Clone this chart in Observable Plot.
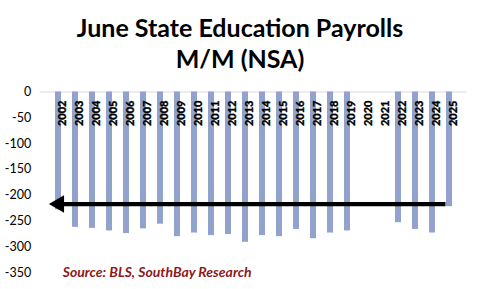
<!DOCTYPE html>
<html>
<head>
<meta charset="utf-8">
<script src="https://cdn.jsdelivr.net/npm/d3@7"></script>
<script src="https://cdn.jsdelivr.net/npm/@observablehq/plot@0.6"></script>
<style>
  body { margin: 0; background: #fff; }
  #wrap { width: 480px; height: 289px; position: relative; overflow: hidden; font-family: Lato, "Open Sans", sans-serif; }
  #title { height: 78px; text-align: center; font-weight: 700; font-size: 25px; line-height: 31px; color: #000; padding-top: 12px; box-sizing: border-box; }
</style>
</head>
<body>
<div id="wrap">
  <div id="title">June State Education Payrolls<br>M/M (NSA)</div>
  <div id="chart"></div>
</div>
<script>
const years = ["2002","2003","2004","2005","2006","2007","2008","2009","2010","2011","2012","2013",
               "2014","2015","2016","2017","2018","2019","2020","2021","2022","2023","2024","2025"];
const values = [-228,-262,-264,-269,-274,-265,-256,-280,-273,-278,-276,-291,
                -278,-280,-266,-284,-273,-269,null,null,-253,-266,-273,-222];
const yTicks = [0,-50,-100,-150,-200,-250,-300,-350];
const arrowLevel = -217;
const arrowFrom = "2025";
const arrowTo = "2002";
const source = "Source: BLS, SouthBay Research";

const data = years.map((y, i) => ({year: y, value: values[i]}));
const bars = data.filter(d => d.value != null);

const chart = Plot.plot({
  width: 480,
  height: 211,
  marginTop: 13.5,
  marginBottom: 16.7,
  marginLeft: 41.7,
  marginRight: 14.5,
  style: {fontFamily: "Lato, 'Open Sans', sans-serif", background: "#fff"},
  x: {domain: years, paddingInner: 0.66, paddingOuter: 0.33, axis: null},
  y: {domain: [-350, 0], ticks: yTicks, label: null},
  marks: [
    Plot.axisY(yTicks, {tickSize: 0, tickPadding: 11, fontSize: 12.5, fill: "#000", label: null, tickFormat: d => String(d)}),
    Plot.ruleY([0], {stroke: "#d9d9d9", strokeWidth: 1, insetLeft: -2, insetRight: -1}),
    Plot.barY(bars, {x: "year", y: "value", fill: "#91a3cd"}),
    Plot.text(years, {x: d => d, frameAnchor: "top", dy: 8.5, rotate: -90, textAnchor: "end",
                      text: d => d, fontSize: 11, fontWeight: 900, fill: "#000", stroke: "#000", strokeWidth: 0.3}),
    Plot.link([{a: arrowFrom, b: arrowTo, v: arrowLevel}], {x1: "a", x2: "b", y1: "v", y2: "v", dx: -4,
                      stroke: "#000", strokeWidth: 4.2}),
    Plot.dot([{a: arrowTo, v: arrowLevel}], {x: "a", y: "v", symbol: "triangle", rotate: -90, r: 6.5, dx: 0.5,
                      fill: "#000", stroke: "none"}),
    Plot.text([source], {frameAnchor: "bottom-left", dx: 20.5, dy: 0, lineAnchor: "middle", textAnchor: "start",
                      fontSize: 14, fontWeight: 700, fontStyle: "italic", fill: "#8b1a1a", text: d => d})
  ]
});
document.getElementById("chart").appendChild(chart);
</script>
</body>
</html>
